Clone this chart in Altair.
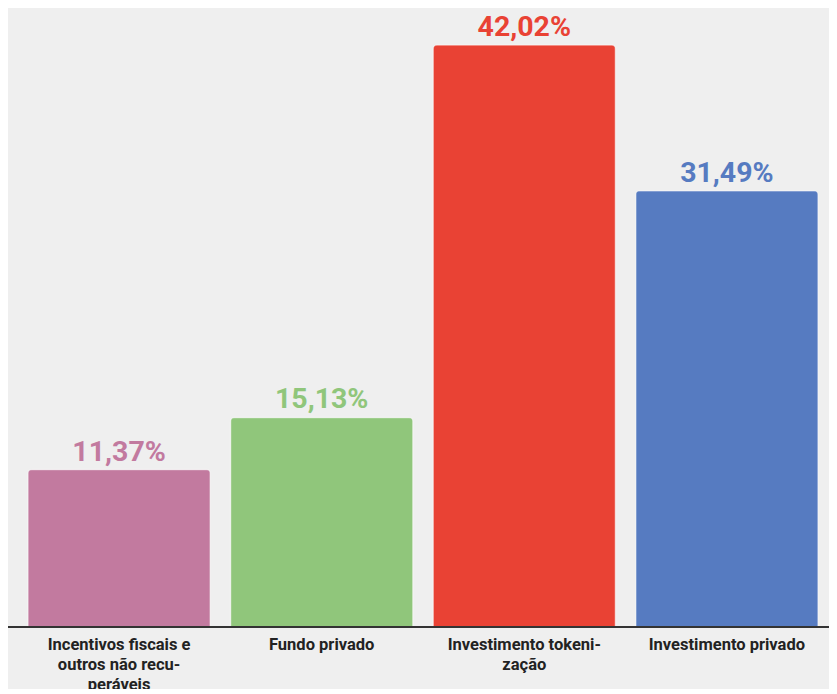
import altair as alt
import pandas as pd

categories = [
    "Incentivos fiscais e|outros não recu-|peráveis",
    "Fundo privado",
    "Investimento tokeni-|zação",
    "Investimento privado",
]
values = [11.37, 15.13, 42.02, 31.49]
value_labels = ["11,37%", "15,13%", "42,02%", "31,49%"]
colors = ["#c27a9f", "#90c67b", "#e94234", "#567bc1"]

df = pd.DataFrame({
    "cat": categories,
    "val": values,
    "lab": value_labels,
    "color": colors,
})

W = 812
H = 613

x = alt.X(
    "cat:N",
    sort=categories,
    title=None,
    scale=alt.Scale(paddingInner=0.1, paddingOuter=0.054),
    axis=alt.Axis(
        labelAngle=0,
        labelExpr="split(datum.value, '|')",
        labelFont="Roboto",
        labelFontSize=16.5,
        labelFontWeight="bold",
        labelColor="#222222",
        labelLineHeight=20,
        labelPadding=9,
        labelBaseline="top",
        ticks=False,
        domain=False,
        labelLimit=300,
    ),
)
y = alt.Y(
    "val:Q",
    scale=alt.Scale(domain=[0, 44.26], nice=False, zero=True),
    axis=None,
)

base = alt.Chart(df)

bars = base.mark_bar(
    cornerRadiusTopLeft=4,
    cornerRadiusTopRight=4,
    stroke="white",
    strokeOpacity=0.3,
    strokeWidth=1.5,
).encode(
    x=x,
    y=y,
    color=alt.Color("color:N", scale=None),
)

texts = base.mark_text(
    font="Roboto",
    fontSize=28.5,
    fontWeight="bold",
    baseline="alphabetic",
    dy=-9,
).encode(
    x=alt.X("cat:N", sort=categories),
    y="val:Q",
    text="lab:N",
    color=alt.Color("color:N", scale=None),
)

baseline = base.mark_rule(color="#333333", strokeWidth=2).encode(
    x=alt.value(-9),
    x2=alt.value(W),
    y=alt.value(H),
)

chart = (
    alt.layer(bars, texts, baseline)
    .properties(
        width=W,
        height=H,
        background="#efefef",
        padding={"left": 9, "right": 0, "top": 6, "bottom": 62},
        autosize=alt.AutoSizeParams(type="none"),
    )
    .configure_view(stroke=None)
)

chart.save("out.html", embed_options={"renderer": "svg", "actions": False})
